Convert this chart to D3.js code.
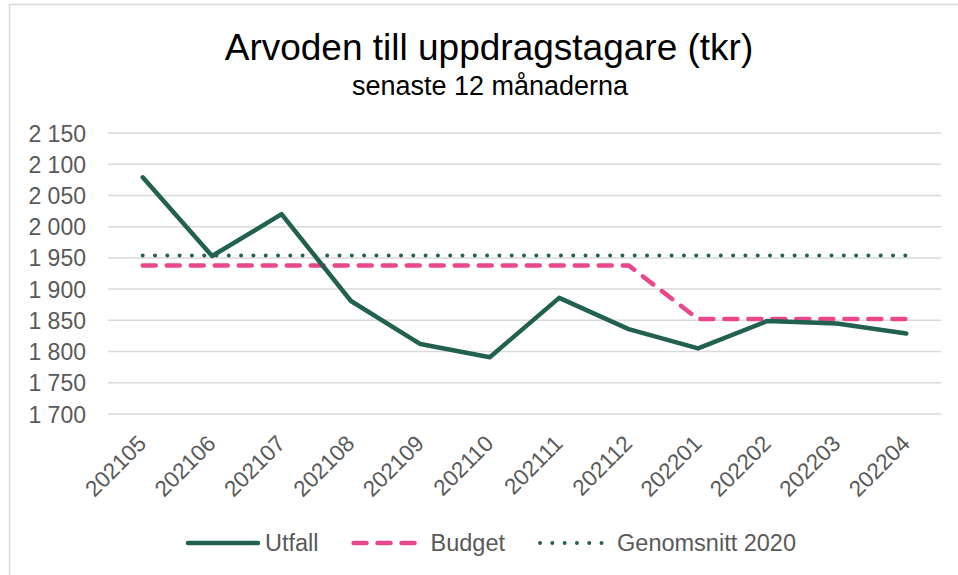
<!DOCTYPE html>
<html>
<head>
<meta charset="utf-8">
<script src="https://cdn.jsdelivr.net/npm/d3@7"></script>
<style>
    body { margin: 0; background: #fff; }
    svg text { font-family: "Liberation Sans", Arial, sans-serif; }
</style>
</head>
<body>
<div id="graphdiv"></div>
<script>
// data
var months = ["202105", "202106", "202107", "202108", "202109", "202110",
              "202111", "202112", "202201", "202202", "202203", "202204"];
var utfall = [2079, 1953, 2020, 1881, 1812, 1791, 1886, 1836, 1805, 1849, 1845, 1829];
var budget = [1938, 1938, 1938, 1938, 1938, 1938, 1938, 1938, 1852, 1852, 1852, 1852];
var snitt2020 = [1954, 1954, 1954, 1954, 1954, 1954, 1954, 1954, 1954, 1954, 1954, 1954];
var yTicks = [1700, 1750, 1800, 1850, 1900, 1950, 2000, 2050, 2100, 2150];

var green = "#22614f";
var pink = "#e8478b";

var series = [
    {name: "Utfall", values: utfall, color: green, width: 4.5, dash: null},
    {name: "Budget", values: budget, color: pink, width: 4.5, dash: "13,11"},
    {name: "Genomsnitt 2020", values: snitt2020, color: green, width: 4, dash: "0,12.3"}
];

function fmt(v) {
    // swedish thousands separator (space)
    var s = String(v);
    return s.length > 3 ? s.slice(0, s.length - 3) + " " + s.slice(-3) : s;
}

var W = 958, H = 575;
var svg = d3.select("#graphdiv").append("svg").attr("width", W).attr("height", H);

// chart frame (right and bottom edges fall outside the picture)
svg.append("rect").attr("x", 9.5).attr("y", 4.5).attr("width", 1000).attr("height", 600)
    .attr("fill", "#fff").attr("stroke", "#d9d9d9").attr("stroke-width", 1.5);

svg.append("text").attr("x", 489).attr("y", 60).attr("text-anchor", "middle")
    .attr("font-size", 37).attr("fill", "#000").text("Arvoden till uppdragstagare (tkr)");
svg.append("text").attr("x", 490).attr("y", 95).attr("text-anchor", "middle")
    .attr("font-size", 27).attr("fill", "#000").text("senaste 12 månaderna");

var x = d3.scaleBand().domain(months).range([108, 941]);
var y = d3.scaleLinear().domain([1700, 2150]).range([414, 133]);

// gridlines
svg.append("g").selectAll("line").data(yTicks).enter().append("line")
    .attr("x1", 108).attr("x2", 941)
    .attr("y1", function(d){ return y(d); }).attr("y2", function(d){ return y(d); })
    .attr("stroke", "#d9d9d9").attr("stroke-width", 1.5);

// y axis
var yAxis = svg.append("g").attr("transform", "translate(86,0)")
    .call(d3.axisLeft(y).tickValues(yTicks).tickFormat(fmt).tickSize(0).tickPadding(0));
yAxis.select(".domain").remove();
yAxis.selectAll("text").attr("font-size", 23).attr("fill", "#595959")
    .attr("font-family", "Liberation Sans, Arial, sans-serif").attr("dy", "0.35em");

// x axis
var xAxis = svg.append("g").attr("transform", "translate(0,414)")
    .call(d3.axisBottom(x).tickSize(0).tickPadding(0));
xAxis.select(".domain").remove();
xAxis.selectAll("text")
    .attr("font-size", 22.5).attr("fill", "#595959")
    .attr("font-family", "Liberation Sans, Arial, sans-serif")
    .attr("text-anchor", "end")
    .attr("dy", null).attr("y", 0)
    .attr("transform", "translate(5,31) rotate(-45)");

// lines
var line = d3.line()
    .x(function(d, i){ return x(months[i]) + x.bandwidth() / 2; })
    .y(function(d){ return y(d); });

// draw avg first, then budget, then utfall on top
[2, 1, 0].forEach(function(k) {
    var s = series[k];
    svg.append("path").datum(s.values)
        .attr("d", line)
        .attr("fill", "none")
        .attr("stroke", s.color)
        .attr("stroke-width", s.width)
        .attr("stroke-linecap", "round")
        .attr("stroke-linejoin", "round")
        .attr("stroke-dasharray", s.dash);
});

// legend
var legend = svg.append("g").attr("transform", "translate(0,543)");
var lx = 188;
series.forEach(function(s) {
    legend.append("line").attr("x1", lx).attr("x2", lx + 70).attr("y1", 0).attr("y2", 0)
        .attr("stroke", s.color).attr("stroke-width", s.width)
        .attr("stroke-linecap", "round").attr("stroke-dasharray", s.dash);
    var t = legend.append("text").attr("x", lx + 77).attr("y", 8)
        .attr("font-size", 23.5).attr("fill", "#595959").text(s.name);
    lx += 77 + t.node().getComputedTextLength() + 35;
});
</script>
</body>
</html>
